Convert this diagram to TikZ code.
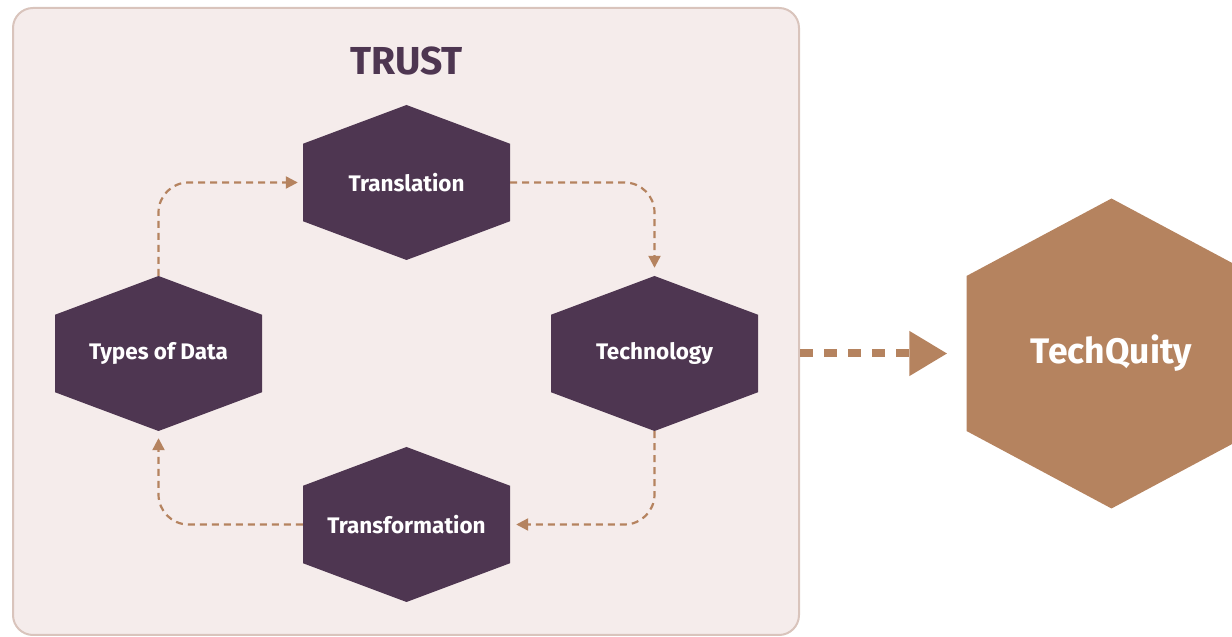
\documentclass[tikz,border=0pt]{standalone}
\usepackage{fontspec}
\setmainfont{Fira Sans}
\usetikzlibrary{arrows.meta, positioning, calc}
\definecolor{hexpurple}{HTML}{4E3651}
\definecolor{techtan}{HTML}{B5835F}
\definecolor{trustfill}{HTML}{F5ECEB}
\definecolor{trustline}{HTML}{D9C4BC}
\newcommand{\hexfill}[1]{\fill[#1] (path picture bounding box.north)
  -- ($(path picture bounding box.north east)!.25!(path picture bounding box.south east)$)
  -- ($(path picture bounding box.north east)!.75!(path picture bounding box.south east)$)
  -- (path picture bounding box.south)
  -- ($(path picture bounding box.north west)!.75!(path picture bounding box.south west)$)
  -- ($(path picture bounding box.north west)!.25!(path picture bounding box.south west)$) -- cycle;}
\tikzstyle{trustbox} = [
draw=trustline, fill=trustfill, line width=2pt, rounded corners=20pt,
minimum width=786pt, minimum height=627pt
]
\tikzstyle{title} = [text=hexpurple, font=\bfseries\fontsize{39}{46}\selectfont]
\tikzstyle{hexagon_S} = [
minimum width=207pt, minimum height=155pt, inner sep=0pt,
text=white, font=\bfseries\fontsize{22.5}{27}\selectfont, path picture={\hexfill{hexpurple}}
]
\tikzstyle{hexagon_L} = [
minimum width=290pt, minimum height=310pt, inner sep=0pt,
text=white, font=\bfseries\fontsize{35.5}{42}\selectfont, path picture={\hexfill{techtan}}
]
\tikzstyle{arrow} = [draw=techtan, line width=2.2pt, dash pattern=on 7pt off 5pt, rounded corners=30pt, -{Triangle[length=12pt,width=12pt]}]
\tikzstyle{bigarrow} = [draw=techtan, line width=8pt, dash pattern=on 13pt off 11pt, -{Triangle[length=38pt,width=43pt]}]

\begin{document}
\begin{tikzpicture}[x=1pt, y=1pt, node distance=171pt]
			\useasboundingbox (0,0) rectangle (1232,637);
			% Caixa de fundo
			\node (Trust_box) [trustbox] at (406,315.5) {};

			% Nodes hexagonais
			\node (Translation) [hexagon_S] at (406.5,454.5) {Translation};
			\node (Types_Data) [hexagon_S, below of=Translation, xshift=-248pt] {Types of Data};
			\node (Technology) [hexagon_S, below of=Translation, xshift=248pt] {Technology};
			\node (Transformation) [hexagon_S, below of=Types_Data, xshift=248pt] {Transformation};
			\node (TechQuity) [hexagon_L, right of=Technology, xshift=286pt] {TechQuity};
			\node (Trust_title) [title, above of=Translation, yshift=-49pt] {TRUST};

			% Connections
			\draw [arrow, shorten >=5pt] (Types_Data.north) |- (Translation.west);
			\draw [arrow, shorten >=8pt] (Translation.east) -| (Technology.north);
			\draw [arrow, shorten >=6pt] (Technology.south) |- (Transformation.east);
			\draw [arrow, shorten >=7pt] (Transformation.west) -| (Types_Data.south);

			% Final Connection
			\draw [bigarrow, shorten >=19pt] (Trust_box.east |- TechQuity.west) -- (TechQuity.west);

		\end{tikzpicture}
\end{document}
